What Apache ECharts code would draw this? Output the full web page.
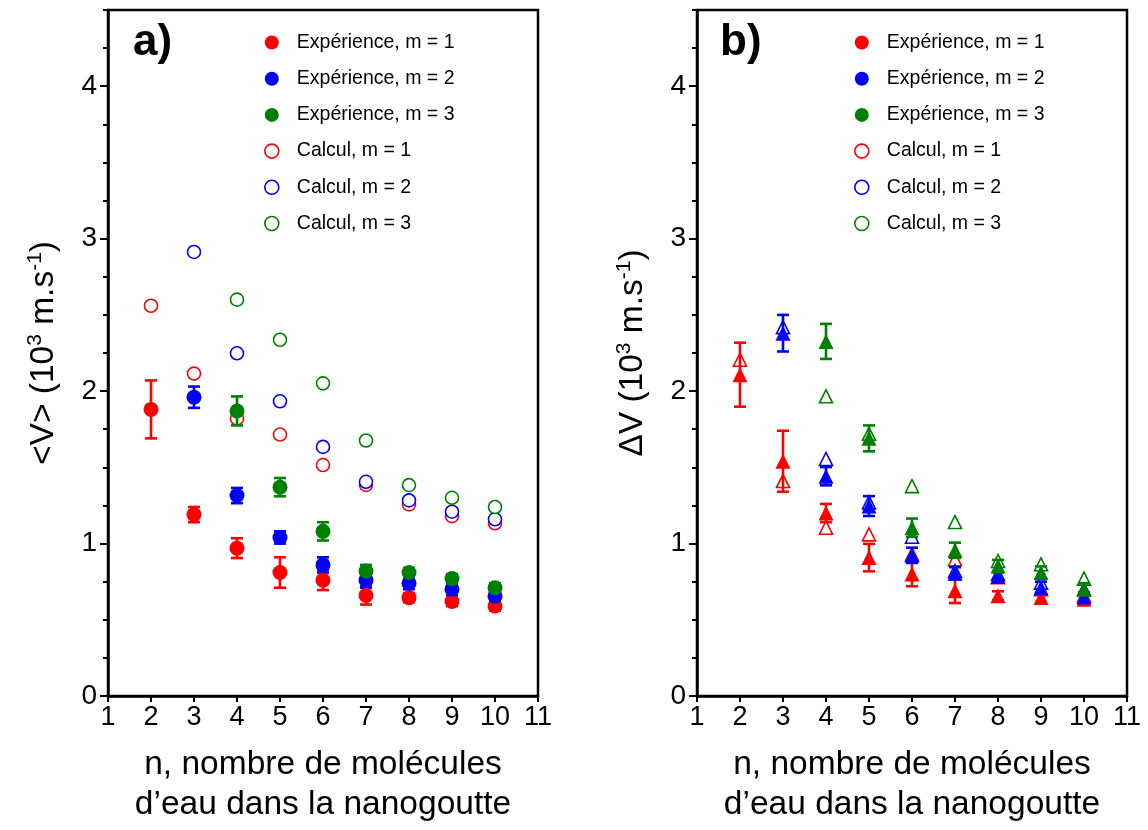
<!DOCTYPE html>
<html><head><meta charset="utf-8">
<script src="https://cdn.jsdelivr.net/npm/echarts@6/dist/echarts.min.js"></script>
<style>html,body{margin:0;padding:0;background:#fff}#c{width:1148px;height:830px}</style>
</head><body><div id="c"></div>
<script>
// ---- data ----
const n1 = [2,3,4,5,6,7,8,9,10];
const n2 = [3,4,5,6,7,8,9,10];
const n3 = [4,5,6,7,8,9,10];

// panel a: mean speed <V>
const expA1 = [1.88, 1.19, 0.97, 0.81, 0.76, 0.66, 0.645, 0.62, 0.59];
const errA1 = [0.19, 0.05, 0.065, 0.10, 0.065, 0.06, 0.03, 0.03, 0.03];
const expA2 = [1.96, 1.315, 1.04, 0.86, 0.76, 0.74, 0.70, 0.655];
const errA2 = [0.07, 0.05, 0.04, 0.05, 0.05, 0.04, 0.04, 0.04];
const expA3 = [1.87, 1.37, 1.08, 0.82, 0.81, 0.77, 0.71];
const errA3 = [0.095, 0.06, 0.06, 0.04, 0.03, 0.03, 0.03];
const calcA1 = [2.56, 2.115, 1.82, 1.715, 1.515, 1.385, 1.257, 1.18, 1.133];
const calcA2 = [2.913, 2.248, 1.933, 1.634, 1.405, 1.283, 1.209, 1.159];
const calcA3 = [2.60, 2.337, 2.051, 1.676, 1.383, 1.30, 1.24];

// panel b: speed spread ΔV
const expB1 = [2.108, 1.54, 1.20, 0.908, 0.80, 0.69, 0.657, 0.646, 0.635];
const errB1 = [0.21, 0.20, 0.06, 0.09, 0.08, 0.08, 0.03, 0.03, 0.03];
const expB2 = [2.38, 1.442, 1.246, 0.923, 0.805, 0.784, 0.71, 0.65];
const errB2 = [0.12, 0.06, 0.065, 0.05, 0.04, 0.03, 0.04, 0.03];
const expB3 = [2.326, 1.69, 1.104, 0.956, 0.853, 0.81, 0.70];
const errB3 = [0.115, 0.085, 0.06, 0.05, 0.04, 0.04, 0.04];
const calcB1 = [2.206, 1.41, 1.104, 1.06, 0.93, 0.897, 0.78, 0.70, 0.66];
const calcB2 = [2.42, 1.555, 1.27, 1.045, 0.82, 0.80, 0.744, 0.70];
const calcB3 = [1.966, 1.72, 1.377, 1.141, 0.886, 0.864, 0.77];

const xTicks = [1,2,3,4,5,6,7,8,9,10,11];
const yTicks = [0,1,2,3,4];
const names = ['Expérience, m = 1','Expérience, m = 2','Expérience, m = 3','Calcul, m = 1','Calcul, m = 2','Calcul, m = 3'];
const colors = ['#ff0000','#0000ff','#008000'];

// ---- build ----
const FONT = "'Liberation Sans', Arial, sans-serif";
const pairs = (xs, ys) => xs.map((x,i)=>[x, ys[i]]);
const errs = (xs, ys, es) => xs.map((x,i)=>[x, ys[i]-es[i], ys[i]+es[i]]);

function errSeries(xi, yi, data, color){
  return {
    type:'custom', xAxisIndex:xi, yAxisIndex:yi, data:data, silent:true, z:3,
    renderItem:function(params, api){
      const x = api.value(0), lo = api.value(1), hi = api.value(2);
      const p1 = api.coord([x, lo]), p2 = api.coord([x, hi]);
      const w = 6;
      const st = {stroke:color, lineWidth:2.6};
      return {type:'group', children:[
        {type:'line', shape:{x1:p1[0],y1:p1[1],x2:p2[0],y2:p2[1]}, style:st},
        {type:'line', shape:{x1:p1[0]-w,y1:p1[1],x2:p1[0]+w,y2:p1[1]}, style:st},
        {type:'line', shape:{x1:p2[0]-w,y1:p2[1],x2:p2[0]+w,y2:p2[1]}, style:st}
      ]};
    }
  };
}
function calcSeries(name, xi, yi, data, color, sym, size){
  return {name:name, type:'scatter', xAxisIndex:xi, yAxisIndex:yi, data:data, z:2,
    symbol:sym, symbolSize:size,
    itemStyle:{color:'#ffffff', borderColor:color, borderWidth:1.6, opacity:1}};
}
function expSeries(name, xi, yi, data, color, sym, size){
  return {name:name, type:'scatter', xAxisIndex:xi, yAxisIndex:yi, data:data, z:4,
    symbol:sym, symbolSize:size,
    itemStyle:{color:color, opacity:1}};
}

function panelSeries(xi, yi, exps, errsArr, calcs, sym, sizeE, sizeC){
  const xs = [n1,n2,n3];
  const out = [];
  for (let k=0;k<3;k++) out.push(calcSeries(names[3+k], xi, yi, pairs(xs[k], calcs[k]), colors[k], sym, sizeC));
  for (let k=0;k<3;k++) out.push(errSeries(xi, yi, errs(xs[k], exps[k], errsArr[k]), colors[k]));
  for (let k=0;k<3;k++) out.push(expSeries(names[k], xi, yi, pairs(xs[k], exps[k]), colors[k], sym, sizeE));
  return out;
}

function xAxisDef(gi){
  return {type:'value', gridIndex:gi, min:xTicks[0], max:xTicks[xTicks.length-1], interval:1,
    axisLine:{show:true, onZero:false, lineStyle:{color:'#000', width:2.5}},
    axisTick:{show:true, inside:false, length:6, lineStyle:{color:'#000', width:2}},
    axisLabel:{color:'#000', fontFamily:FONT, fontSize:27, margin:8},
    splitLine:{show:false},
    name:'n, nombre de molécules\nd’eau dans la nanogoutte', nameLocation:'middle', nameGap:49,
    nameTextStyle:{color:'#000', fontFamily:FONT, fontSize:33.5, lineHeight:40}
  };
}
function yAxisMain(gi, title){
  return {type:'value', gridIndex:gi, min:0, max:4.5, interval:1, position:'left',
    axisLine:{show:true, onZero:false, lineStyle:{color:'#000', width:2.5}},
    axisTick:{show:true, inside:false, length:8, lineStyle:{color:'#000', width:2}},
    axisLabel:{color:'#000', fontFamily:FONT, fontSize:28, margin:11, showMaxLabel:false,
      formatter:function(v){ return yTicks.indexOf(v) >= 0 ? String(v) : ''; }},
    splitLine:{show:false},
    name:title, nameLocation:'middle', nameGap:45,
    nameTextStyle:{color:'#000', fontFamily:FONT, fontSize:33.5, lineHeight:38,
      rich:{sup:{fontFamily:FONT, fontSize:21, verticalAlign:'top', lineHeight:38, color:'#000'}}}
  };
}
function yAxisMinor(gi){
  return {type:'value', gridIndex:gi, min:0, max:4.5, interval:0.25, position:'left',
    axisLine:{show:false}, axisTick:{show:true, inside:false, length:5, lineStyle:{color:'#000', width:2}},
    axisLabel:{show:false}, splitLine:{show:false}};
}
function legendDef(left){
  return {orient:'vertical', left:left, top:27.5, itemWidth:14, itemHeight:14, itemGap:16.2,
    selectedMode:false, textStyle:{color:'#000', fontFamily:FONT, fontSize:19.5, lineHeight:20, padding:[0,0,0,13]},
    data:names.map((nm,i)=> i<3
      ? {name:nm, icon:'circle', itemStyle:{color:colors[i], borderWidth:0}}
      : {name:nm, icon:'circle', itemStyle:{color:'#fff', borderColor:colors[i-3], borderWidth:1.6}})
  };
}

const series = [].concat(
  panelSeries(0, 0, [expA1,expA2,expA3], [errA1,errA2,errA3], [calcA1,calcA2,calcA3], 'circle', 15, 13),
  panelSeries(1, 2, [expB1,expB2,expB3], [errB1,errB2,errB3], [calcB1,calcB2,calcB3], 'triangle', 15, 13)
);

const option = {
  animation:false,
  backgroundColor:'#fff',
  title:[
    {text:'a)', left:128, top:16, textStyle:{fontFamily:FONT, fontSize:44, fontWeight:'bold', color:'#000'}},
    {text:'b)', left:715, top:16, textStyle:{fontFamily:FONT, fontSize:44, fontWeight:'bold', color:'#000'}}
  ],
  legend:[legendDef(259), legendDef(849)],
  grid:[
    {left:108, top:10, width:430, height:687, show:true, borderColor:'#000', borderWidth:2.5, backgroundColor:'transparent'},
    {left:697, top:10, width:430, height:687, show:true, borderColor:'#000', borderWidth:2.5, backgroundColor:'transparent'}
  ],
  xAxis:[xAxisDef(0), xAxisDef(1)],
  yAxis:[
    yAxisMain(0, '<V> (10{sup|3} m.s{sup|-1})'), yAxisMinor(0),
    yAxisMain(1, 'ΔV (10{sup|3} m.s{sup|-1})'), yAxisMinor(1)
  ],
  series:series
};
const chart = echarts.init(document.getElementById('c'), null, {renderer:'canvas'});
chart.setOption(option);
</script></body></html>
